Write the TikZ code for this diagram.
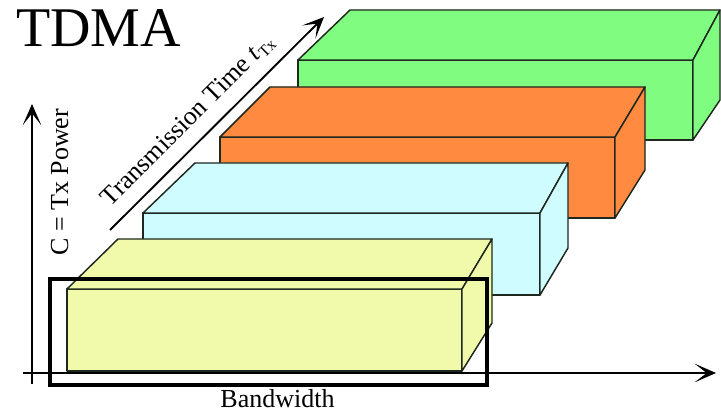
\documentclass[tikz,border=0pt]{standalone}
\usepackage{fontspec}
\setmainfont{Liberation Serif}
\usetikzlibrary{arrows.meta}
\definecolor{boxgreen}{RGB}{128,252,128}
\definecolor{boxorange}{RGB}{255,138,64}
\definecolor{boxcyan}{RGB}{206,252,255}
\definecolor{boxyellow}{RGB}{240,250,170}
\definecolor{edge}{RGB}{30,40,30}
\tikzset{
  face/.style={draw=edge, line width=1.1pt, line join=round},
  axis/.style={draw=black, line width=1.6pt, -{Stealth[length=16pt,width=14pt,inset=9pt]}},
  lbl/.style={inner sep=0pt, font=\fontsize{19.5}{20}\selectfont},
  frame/.style={draw=black, line width=3pt}
}
% box: #1 colour, front x1,y1,x2,y2 ; back top-left x, back top-right x, back top y, back bottom y
\newcommand{\drawslab}[9]{%
  \fill[#1] (#6,#8) -- (#7,#8) -- (#7,#9) -- (#4,#5) -- (#4,#3) -- (#2,#3) -- cycle;
  \draw[face,fill=#1] (#2,#3) rectangle (#4,#5);
  \draw[face,fill=#1] (#2,#3) -- (#6,#8) -- (#7,#8) -- (#4,#3) -- cycle;
  \draw[face,fill=#1] (#4,#3) -- (#7,#8) -- (#7,#9) -- (#4,#5) -- cycle;
}
\begin{document}
\begin{tikzpicture}[x=0.75pt,y=-0.75pt]
\useasboundingbox (0,0) rectangle (721,417);
\fill[white] (0,0) rectangle (721,417);
% slabs, back to front
\drawslab{boxgreen}{298}{60}{693}{140}{350}{720}{10}{100}
\drawslab{boxorange}{220}{137}{615}{218}{270}{645}{87}{170}
\drawslab{boxcyan}{143}{213}{540}{295}{195}{568}{163}{248}
\drawslab{boxyellow}{67}{289}{462}{371}{118}{492}{239}{323}
% axes
\coordinate (vs) at (32,384);
\coordinate (ve) at (32,104);
\coordinate (hs) at (23,373);
\coordinate (he) at (716,373);
\coordinate (ds) at (110,230);
\coordinate (de) at (324,17);
\draw[axis] (vs) -- (ve);
\draw[axis] (hs) -- (he);
\draw[axis, line width=1.4pt] (ds) -- (de);
% highlight frame
\draw[frame] (50,279) rectangle (487,385);
% labels
\node[lbl, font=\fontsize{42}{44}\selectfont, anchor=base west] (title) at (16,47) {TDMA};
\node[lbl, anchor=base west, rotate=90] (power) at (68,256) {C = Tx Power};
\node[lbl, anchor=base] (bw) at (277.5,407) {Bandwidth};
\node[lbl, anchor=base west, rotate=45] (time) at (110.5,207.5) {Transmission Time \textit{t}\raisebox{-3pt}{\fontsize{12}{12}\selectfont Tx}};
\end{tikzpicture}
\end{document}
